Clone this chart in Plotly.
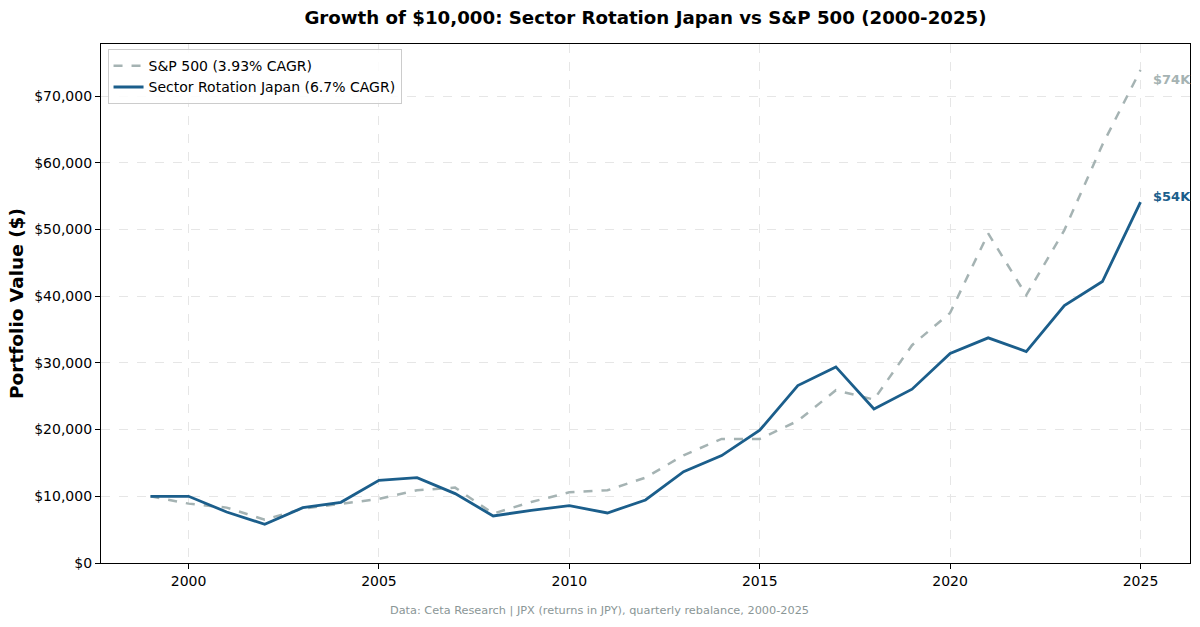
import plotly.graph_objects as go

years = list(range(1999, 2026))
sector_japan = [10000, 10000, 7650, 5800, 8300, 9100, 12400, 12800, 10400, 7050,
                7900, 8600, 7500, 9450, 13700, 16100, 19900, 26600, 29400, 23100,
                26050, 31400, 33750, 31700, 38600, 42200, 54100]
sp500 = [10000, 8900, 8300, 6500, 8150, 8900, 9600, 10900, 11300, 7400,
         9150, 10600, 10900, 12800, 16150, 18600, 18600, 21300, 25900, 24500,
         32650, 37500, 49400, 40150, 49900, 62700, 73900]

sp_name = "S&P 500 (3.93% CAGR)"
sr_name = "Sector Rotation Japan (6.7% CAGR)"
title = "Growth of $10,000: Sector Rotation Japan vs S&P 500 (2000-2025)"
note = "Data: Ceta Research | JPX (returns in JPY), quarterly rebalance, 2000-2025"
x_ticks = [2000, 2005, 2010, 2015, 2020, 2025]
y_ticks = [0, 10000, 20000, 30000, 40000, 50000, 60000, 70000]
y_ticklabels = [f"${v:,}" for v in y_ticks]

BLUE = "#1b5e8b"
GRAY = "#a5b3b3"
FONT = "DejaVu Sans"

fig = go.Figure()
fig.add_trace(go.Scatter(x=years, y=sp500, mode="lines", name=sp_name,
                         line=dict(color=GRAY, width=2.5, dash="dash")))
fig.add_trace(go.Scatter(x=years, y=sector_japan, mode="lines", name=sr_name,
                         line=dict(color=BLUE, width=2.8)))

def klabel(v):
    return f"${round(v/1000):.0f}K"

fig.add_annotation(x=years[-1], y=sp500[-1], text=f"<b>{klabel(sp500[-1])}</b>",
                   showarrow=False, xanchor="left", yanchor="middle", xshift=10, yshift=-9,
                   font=dict(family=FONT, size=13, color=GRAY))
fig.add_annotation(x=years[-1], y=sector_japan[-1], text=f"<b>{klabel(sector_japan[-1])}</b>",
                   showarrow=False, xanchor="left", yanchor="middle", xshift=10, yshift=6,
                   font=dict(family=FONT, size=13, color=BLUE))

fig.add_annotation(x=0.458, y=-0.0906, xref="paper", yref="paper", text=note,
                   showarrow=False, xanchor="center", yanchor="middle",
                   font=dict(family=FONT, size=11.3, color="#8a9696"))

fig.update_layout(
    width=1200, height=627,
    paper_bgcolor="white", plot_bgcolor="white",
    margin=dict(l=101, r=10, t=44, b=64),
    font=dict(family=FONT, size=14, color="black"),
    title=dict(text=f"<b>{title}</b>", xref="paper", x=0.5, xanchor="center",
               y=0.972, yanchor="middle",
               font=dict(family=FONT, size=18.2, color="black")),
    legend=dict(x=0.006, y=0.99, xanchor="left", yanchor="top",
                bgcolor="rgba(255,255,255,0.85)", bordercolor="#cccccc", borderwidth=1,
                font=dict(family=FONT, size=14), tracegroupgap=0, itemwidth=30),
    showlegend=True,
)
fig.update_xaxes(range=[1997.7, 2026.3], tickvals=x_ticks, ticks="outside", ticklen=5,
                 tickcolor="black", showline=True, linecolor="black", linewidth=1.2, mirror=True,
                 showgrid=True, gridcolor="#e6e6e6", griddash="dash", gridwidth=1,
                 zeroline=False, tickfont=dict(family=FONT, size=14))
fig.update_yaxes(range=[0, 77800], tickvals=y_ticks, ticktext=y_ticklabels,
                 ticks="outside", ticklen=5, tickcolor="black",
                 showline=True, linecolor="black", linewidth=1.2, mirror=True,
                 showgrid=True, gridcolor="#e6e6e6", griddash="dash", gridwidth=1,
                 zeroline=False, tickfont=dict(family=FONT, size=14),
                 title=dict(text="<b>Portfolio Value ($)</b>", font=dict(family=FONT, size=18.5), standoff=5))

fig.write_html("out.html", config={"displayModeBar": False},
               post_script="document.body.style.margin='0';")
